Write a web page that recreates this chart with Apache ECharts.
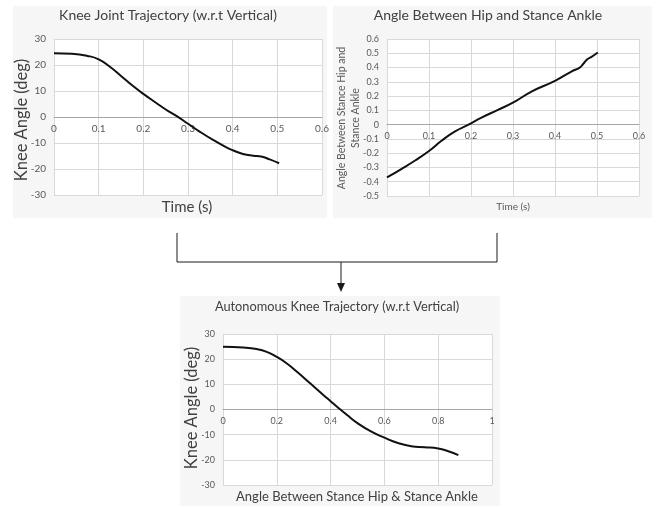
<!DOCTYPE html>
<html>
<head>
<meta charset="utf-8">
<script src="https://cdn.jsdelivr.net/npm/echarts@6/dist/echarts.min.js"></script>
<style>
  html, body { margin: 0; padding: 0; background: #ffffff; }
  #chart { width: 656px; height: 508px; }
</style>
</head>
<body>
<div id="chart"></div>
<script>
// Knee joint trajectory against time: [time (s), knee angle (deg)]
const kneeVsTime = [
  [0, 24.5], [0.04, 24.3], [0.075, 23.5], [0.1, 22.2], [0.123, 19.6],
  [0.15, 15.8], [0.177, 11.9], [0.2, 8.9], [0.229, 5.4], [0.251, 2.8],
  [0.274, 0.4], [0.3, -2.6], [0.326, -5.6], [0.356, -8.8], [0.386, -11.7],
  [0.4, -12.8], [0.423, -14.2], [0.446, -14.9], [0.464, -15.2],
  [0.483, -16.3], [0.504, -17.8]
];

// Angle between hip and stance ankle against time: [time (s), angle]
const hipAnkleVsTime = [
  [0, -0.37], [0.034, -0.311], [0.066, -0.253], [0.1, -0.185],
  [0.129, -0.115], [0.161, -0.049], [0.194, 0], [0.225, 0.049],
  [0.264, 0.103], [0.302, 0.157], [0.344, 0.232], [0.4, 0.307],
  [0.439, 0.372], [0.459, 0.4], [0.467, 0.425], [0.477, 0.458],
  [0.487, 0.475], [0.502, 0.505]
];

// Autonomous knee trajectory: [hip-ankle angle, knee angle (deg)]
const kneeVsHipAnkle = [
  [0, 24.9], [0.075, 24.6], [0.125, 24.0], [0.1625, 22.9], [0.2, 20.9],
  [0.2375, 18.3], [0.275, 15.0], [0.325, 10.3], [0.375, 5.6], [0.4, 3.3],
  [0.425, 1.0], [0.4625, -2.3], [0.5, -5.4], [0.55, -8.7], [0.6, -11.2],
  [0.65, -13.3], [0.7, -14.6], [0.75, -15.0], [0.8, -15.5],
  [0.8375, -16.6], [0.875, -18.1]
];

// Axis ranges and tick steps
const timeAxis = { min: 0, max: 0.6, interval: 0.1 };
const kneeAxis = { min: -30, max: 30, interval: 10 };
const angleAxis = { min: -0.5, max: 0.6, interval: 0.1 };
const hipAnkleAxis = { min: 0, max: 1, interval: 0.2 };

// Text
const titles = [
  'Knee Joint Trajectory (w.r.t Vertical)',
  'Angle Between Hip and Stance Ankle',
  'Autonomous Knee Trajectory (w.r.t Vertical)'
];
const xNames = ['Time (s)', 'Time (s)', 'Angle Between Stance Hip & Stance Ankle'];
const yNames = ['Knee Angle (deg)', 'Angle Between Stance Hip and\nStance Ankle', 'Knee Angle (deg)'];

const FONT = 'Lato, "Open Sans", "Noto Sans", sans-serif';
const LABEL = '#595959';
const GRIDLINE = '#d9d9d9';
const ZEROLINE = '#a6a6a6';

// plot rectangles
const grids = [
  { left: 54, top: 39, width: 268, height: 156 },
  { left: 387, top: 39, width: 252, height: 157 },
  { left: 223, top: 334, width: 269, height: 151 }
];

function fmt(v) {
  return String(Math.round(v * 10) / 10);
}

// the horizontal axis (line + tick labels) sits on the value-zero row of the vertical range
function xAxisFor(range, yRange, gridIndex, size) {
  const h = grids[gridIndex].height;
  const zeroOffset = -((0 - yRange.min) / (yRange.max - yRange.min)) * h;
  return {
    type: 'value', gridIndex, min: range.min, max: range.max, interval: range.interval,
    position: 'bottom', offset: zeroOffset,
    axisLine: { onZero: false, lineStyle: { color: ZEROLINE, width: 1 } },
    axisTick: { show: false },
    axisLabel: { color: LABEL, fontFamily: FONT, fontSize: size, margin: 7, formatter: fmt,
                 showMinLabel: true, showMaxLabel: true },
    splitLine: { show: true, lineStyle: { color: GRIDLINE, width: 1 } }
  };
}

function yAxisFor(range, gridIndex, size) {
  return {
    type: 'value', gridIndex, min: range.min, max: range.max, interval: range.interval,
    axisLine: { show: false },
    axisTick: { show: false },
    axisLabel: { color: LABEL, fontFamily: FONT, fontSize: size, margin: 8, formatter: fmt,
                 showMinLabel: true, showMaxLabel: true },
    splitLine: { show: true, lineStyle: { color: GRIDLINE, width: 1 } }
  };
}

function lineSeries(data, idx) {
  return {
    type: 'line', xAxisIndex: idx, yAxisIndex: idx, data,
    smooth: 0.5, showSymbol: false, symbol: 'none',
    lineStyle: { color: '#111111', width: 2 },
    z: 5
  };
}

function text(str, x, y, size, color, rotate) {
  return {
    type: 'text', x, y, rotation: rotate ? Math.PI / 2 : 0, z: 10,
    style: { text: str, font: size + 'px ' + FONT, fill: color,
             textAlign: 'center', textVerticalAlign: 'middle', lineHeight: Math.round(size * 1.3) }
  };
}

function panel(x, y, w, h) {
  return { type: 'rect', z: -10, shape: { x, y, width: w, height: h },
           style: { fill: '#f6f6f6' }, silent: true };
}

const chart = echarts.init(document.getElementById('chart'), null, { renderer: 'canvas' });

chart.setOption({
  backgroundColor: '#ffffff',
  animation: false,
  grid: grids.map(g => Object.assign({ show: true, backgroundColor: '#ffffff', borderWidth: 0 }, g)),
  xAxis: [
    xAxisFor(timeAxis, kneeAxis, 0, 10),
    xAxisFor(timeAxis, angleAxis, 1, 9),
    xAxisFor(hipAnkleAxis, kneeAxis, 2, 9)
  ],
  yAxis: [
    yAxisFor(kneeAxis, 0, 10),
    yAxisFor(angleAxis, 1, 9),
    yAxisFor(kneeAxis, 2, 9)
  ],
  series: [
    lineSeries(kneeVsTime, 0),
    lineSeries(hipAnkleVsTime, 1),
    lineSeries(kneeVsHipAnkle, 2)
  ],
  graphic: [
    panel(13, 6, 314, 212),
    panel(333, 6, 319, 212),
    panel(180, 296, 320, 210),

    text(titles[0], 168, 15, 14, '#404040'),
    text(titles[1], 488, 15, 14, '#404040'),
    text(titles[2], 337, 307, 12.8, '#404040'),

    text(xNames[0], 187, 207, 15, '#404040'),
    text(xNames[1], 513, 207, 10, LABEL),
    text(xNames[2], 357, 497, 13, '#404040'),

    text(yNames[0], 22, 120, 16.5, '#404040', true),
    text(yNames[1], 349, 118, 10.5, LABEL, true),
    text(yNames[2], 192, 408, 16.5, '#404040', true),

    // bracket joining the two upper charts and the arrow down to the lower one
    { type: 'polyline', z: 10, shape: { points: [[177, 233], [177, 262], [497, 262], [497, 233]] },
      style: { stroke: '#1a1a1a', lineWidth: 1, fill: null } },
    { type: 'line', z: 10, shape: { x1: 341, y1: 262, x2: 341, y2: 284 },
      style: { stroke: '#1a1a1a', lineWidth: 1 } },
    { type: 'polygon', z: 10, shape: { points: [[337, 283], [345, 283], [341, 292]] },
      style: { fill: '#1a1a1a' } }
  ]
});
</script>
</body>
</html>
